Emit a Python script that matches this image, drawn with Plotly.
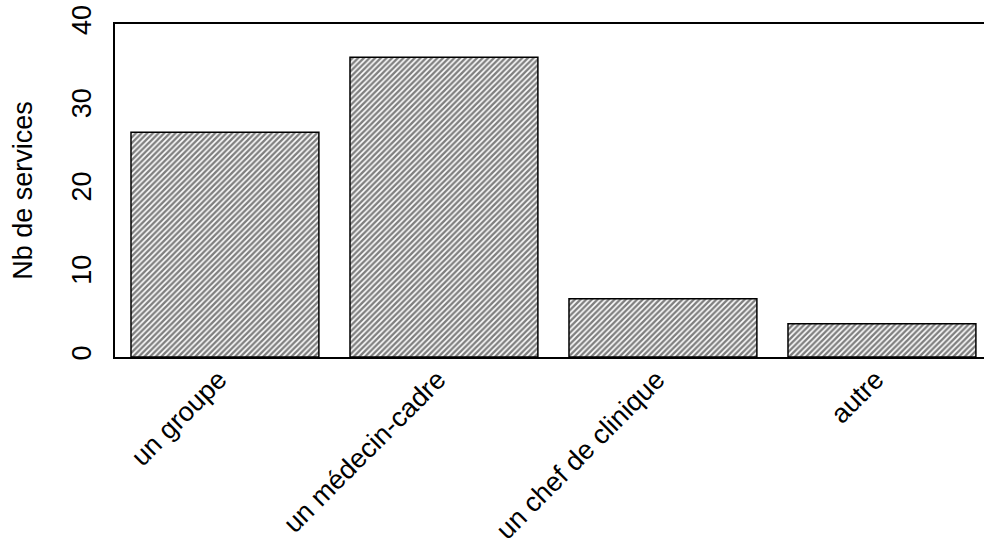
import plotly.graph_objects as go

categories = ["un groupe", "un médecin-cadre", "un chef de clinique", "autre"]
values = [27, 36, 7, 4]
y_ticks = [0, 10, 20, 30, 40]
y_title = "Nb de services"

fig = go.Figure()
fig.add_trace(go.Bar(
    x=categories,
    y=values,
    marker=dict(
        color="white",
        line=dict(color="black", width=1.5),
        pattern=dict(shape="/", fgcolor="black", bgcolor="white", size=4, solidity=0.6),
    ),
    width=0.858,
    hoverinfo="skip",
))

fig.update_layout(
    width=984, height=546,
    margin=dict(l=115, r=0, t=24, b=189, autoexpand=False),
    paper_bgcolor="white", plot_bgcolor="white",
    font=dict(family="Liberation Sans, Arial, sans-serif", color="black"),
    showlegend=False,
    xaxis=dict(
        range=[-0.502, 3.466],
        tickangle=-45,
        tickfont=dict(size=27),
        showline=True, mirror=True, linecolor="black", linewidth=2,
        ticks="", showgrid=False, zeroline=False,
        ticklabelstandoff=-6,
        ticklabelshift=-6,
        automargin=False,
    ),
    yaxis=dict(
        range=[0, 40],
        tickvals=y_ticks,
        ticktext=[str(v) for v in y_ticks],
        tickangle=-90,
        tickfont=dict(size=27),
        showline=True, mirror=False, linecolor="black", linewidth=2,
        ticks="", showgrid=False, zeroline=False,
        ticklabelstandoff=11,
        automargin=False,
        title=dict(text=y_title, font=dict(size=27), standoff=27),
    ),
)

fig.write_html(
    "out.html",
    config={"displayModeBar": False, "staticPlot": True},
    post_script="document.body.style.margin='0';document.body.style.overflow='hidden';",
)
